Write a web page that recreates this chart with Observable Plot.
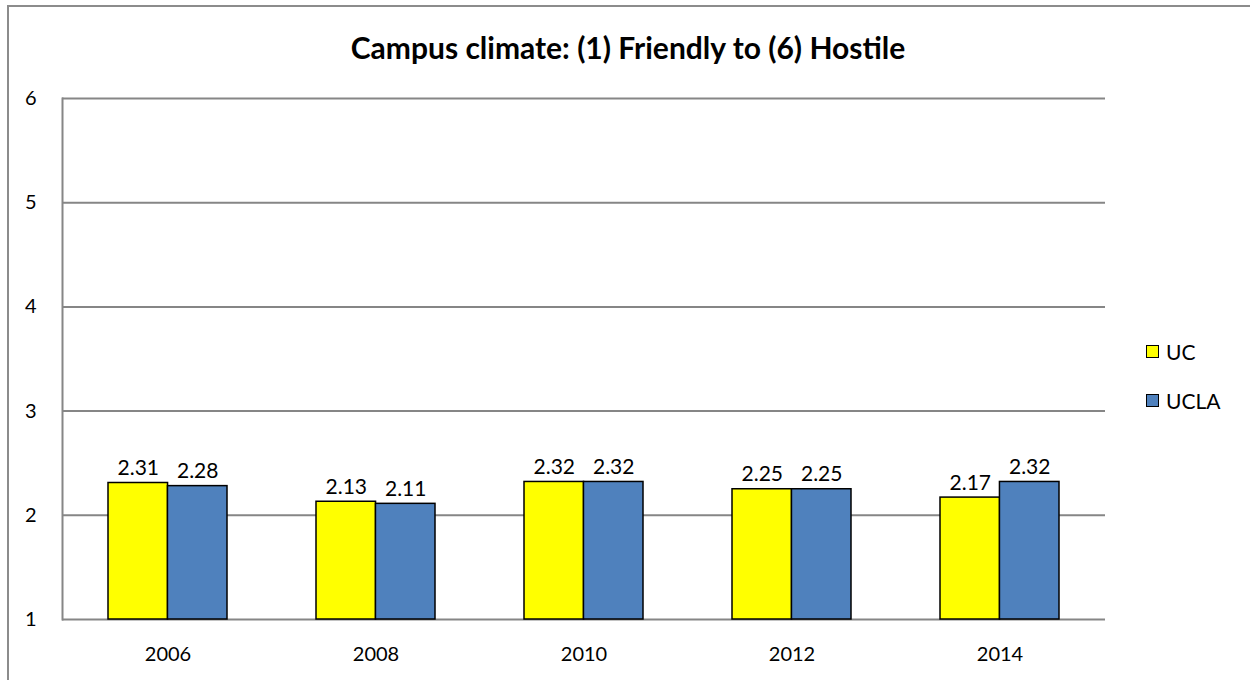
<!DOCTYPE html>
<html>
<head>
<meta charset="utf-8">
<script src="https://cdn.jsdelivr.net/npm/d3@7"></script>
<script src="https://cdn.jsdelivr.net/npm/@observablehq/plot@0.6"></script>
<style>
  html, body { margin: 0; padding: 0; background: #fff; }
  body { width: 1250px; height: 680px; position: relative; overflow: hidden; font-family: Lato, "Open Sans", sans-serif; }
  #frame { position: absolute; left: 7px; top: 5px; width: 1300px; height: 700px; border-left: 2px solid #8c8c8c; border-top: 2px solid #8c8c8c; }
  #title { position: absolute; left: 0; top: 29px; width: 1256px; text-align: center; font-weight: bold; font-size: 30px; line-height: 36px; color: #000; }
  #chart { position: absolute; left: 0; top: 80px; }
  #legend { position: absolute; left: 1146px; top: 337px; font-size: 21px; color: #000; }
  .item { display: flex; align-items: center; height: 28px; margin-bottom: 21px; }
  .sw { width: 11px; height: 11px; border: 1.5px solid #000; margin-right: 7px; }
</style>
</head>
<body>
<div id="frame"></div>
<div id="title">Campus climate: (1) Friendly to (6) Hostile</div>
<div id="chart"></div>
<div id="legend"></div>
<script>
const years = ["2006", "2008", "2010", "2012", "2014"];
const seriesNames = ["UC", "UCLA"];
const ucValues = [2.31, 2.13, 2.32, 2.25, 2.17];
const uclaValues = [2.28, 2.11, 2.32, 2.25, 2.32];
const yTicks = [1, 2, 3, 4, 5, 6];
const colors = ["#FFFF00", "#4F81BD"];

const rows = years.map((y, i) => ({year: y, UC: ucValues[i], UCLA: uclaValues[i]}));

const W = 1250, H = 600;
const mL = 62, mR = 145, mT = 18, mB = 61;
const step = (W - mL - mR) / years.length;
const padIn = 0.43;
const bw = step * (1 - padIn);
const half = bw / 2;

const plot = Plot.plot({
  width: W,
  height: H,
  marginLeft: mL,
  marginRight: mR,
  marginTop: mT,
  marginBottom: mB,
  style: {fontFamily: "Lato, 'Open Sans', sans-serif", fontSize: "20px", color: "#000", background: "transparent"},
  x: {domain: years, paddingInner: padIn, paddingOuter: padIn / 2, label: null},
  y: {domain: [1, 6], ticks: yTicks, label: null},
  marks: [
    Plot.ruleY(yTicks, {stroke: "#868686", strokeWidth: 2}),
    Plot.frame({anchor: "left", stroke: "#868686", strokeWidth: 2}),
    Plot.barY(rows, {x: "year", y1: 1, y2: "UC", fill: colors[0], stroke: "#000", strokeWidth: 1.5, insetRight: half}),
    Plot.barY(rows, {x: "year", y1: 1, y2: "UCLA", fill: colors[1], stroke: "#000", strokeWidth: 1.5, insetLeft: half}),
    Plot.text(rows, {x: "year", y: "UC", text: d => d.UC.toFixed(2), dx: -half / 2, dy: -8, lineAnchor: "bottom", fontSize: 21, fill: "#000"}),
    Plot.text(rows, {x: "year", y: "UCLA", text: d => d.UCLA.toFixed(2), dx: half / 2, dy: -8, lineAnchor: "bottom", fontSize: 21, fill: "#000"}),
    Plot.axisY({ticks: yTicks, tickFormat: d3.format("d"), tickSize: 0, tickPadding: 26, fontSize: 20, label: null}),
    Plot.axisX({tickSize: 0, tickPadding: 27, fontSize: 20, label: null})
  ]
});
document.getElementById("chart").appendChild(plot);

const legend = document.getElementById("legend");
seriesNames.forEach((name, i) => {
  const item = document.createElement("div");
  item.className = "item";
  const sw = document.createElement("div");
  sw.className = "sw";
  sw.style.background = colors[i];
  const lab = document.createElement("span");
  lab.textContent = name;
  item.appendChild(sw);
  item.appendChild(lab);
  legend.appendChild(item);
});
</script>
</body>
</html>
